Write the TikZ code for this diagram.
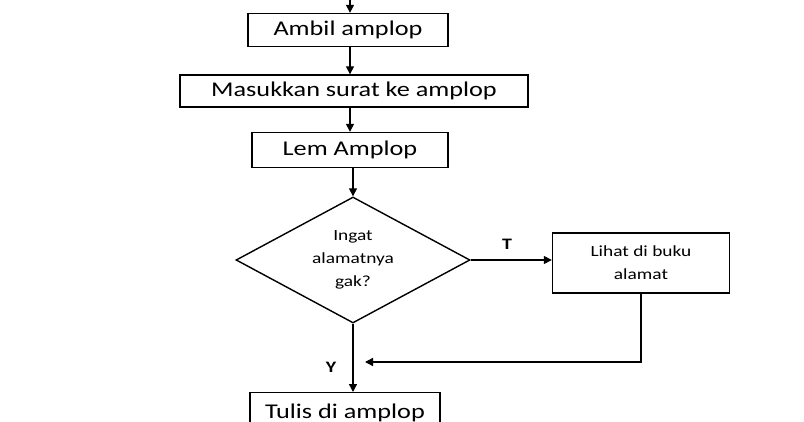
\documentclass[tikz,border=0pt]{standalone}
\usepackage{fontspec}
\setmainfont{Carlito}
\usetikzlibrary{shapes.geometric,arrows.meta}
\newcommand{\sx}[1]{\scalebox{1.25}[1]{#1}}
\begin{document}
\begin{tikzpicture}[x=1pt,y=-1pt,
  box/.style={draw,line width=1.4pt,minimum height=33pt,inner sep=0pt,font=\fontsize{21}{24}\selectfont},
  small/.style={font=\fontsize{15.5}{23}\selectfont},
  arr/.style={line width=1.4pt,-{Triangle[length=8pt,width=8pt]}}]
\useasboundingbox (0,0) rectangle (804,422);
\fill[white] (0,0) rectangle (804,422);
\coordinate (top) at (350,0);
\node[box,minimum width=200pt] (a) at (348,30) {\sx{Ambil amplop}};
\node[box,minimum width=348pt,minimum height=32pt] (b) at (354,91) {\sx{Masukkan surat ke amplop}};
\node[box,minimum width=196pt,minimum height=35pt] (c) at (350,150) {\sx{Lem Amplop}};
\node[draw,line width=1.4pt,diamond,minimum width=234pt,minimum height=126pt,inner sep=0pt,aspect=1.86,
  align=center,small] (d) at (353,260) {\sx{Ingat}\\\sx{alamatnya}\\\sx{gak?}};
\node[box,minimum width=177pt,minimum height=60pt,align=center,small] (l) at (641,263) {\sx{Lihat di buku}\\\sx{alamat}};
\node[box,minimum width=190pt,minimum height=40pt,anchor=north] (t) at (345,392) {\sx{Tulis di amplop}};
\coordinate (m) at (353,362);
\draw[arr] (top) -- (a.north -| top);
\draw[arr] (a.south -| top) -- (b.north -| top);
\draw[arr] (b.south -| top) -- (c.north -| top);
\draw[arr] (c.south -| d) -- (d.north);
\draw[arr] (d.east) -- (l.west |- d.east);
\draw[arr] (l.south) |- ([xshift=12pt]m);
\draw[arr] (d.south) -- (d.south |- t.north);
\node[font=\fontsize{16}{18}\selectfont\bfseries] at (507,244) {\sx{T}};
\node[font=\fontsize{16}{18}\selectfont\bfseries] at (331,367) {\sx{Y}};
\end{tikzpicture}
\end{document}
